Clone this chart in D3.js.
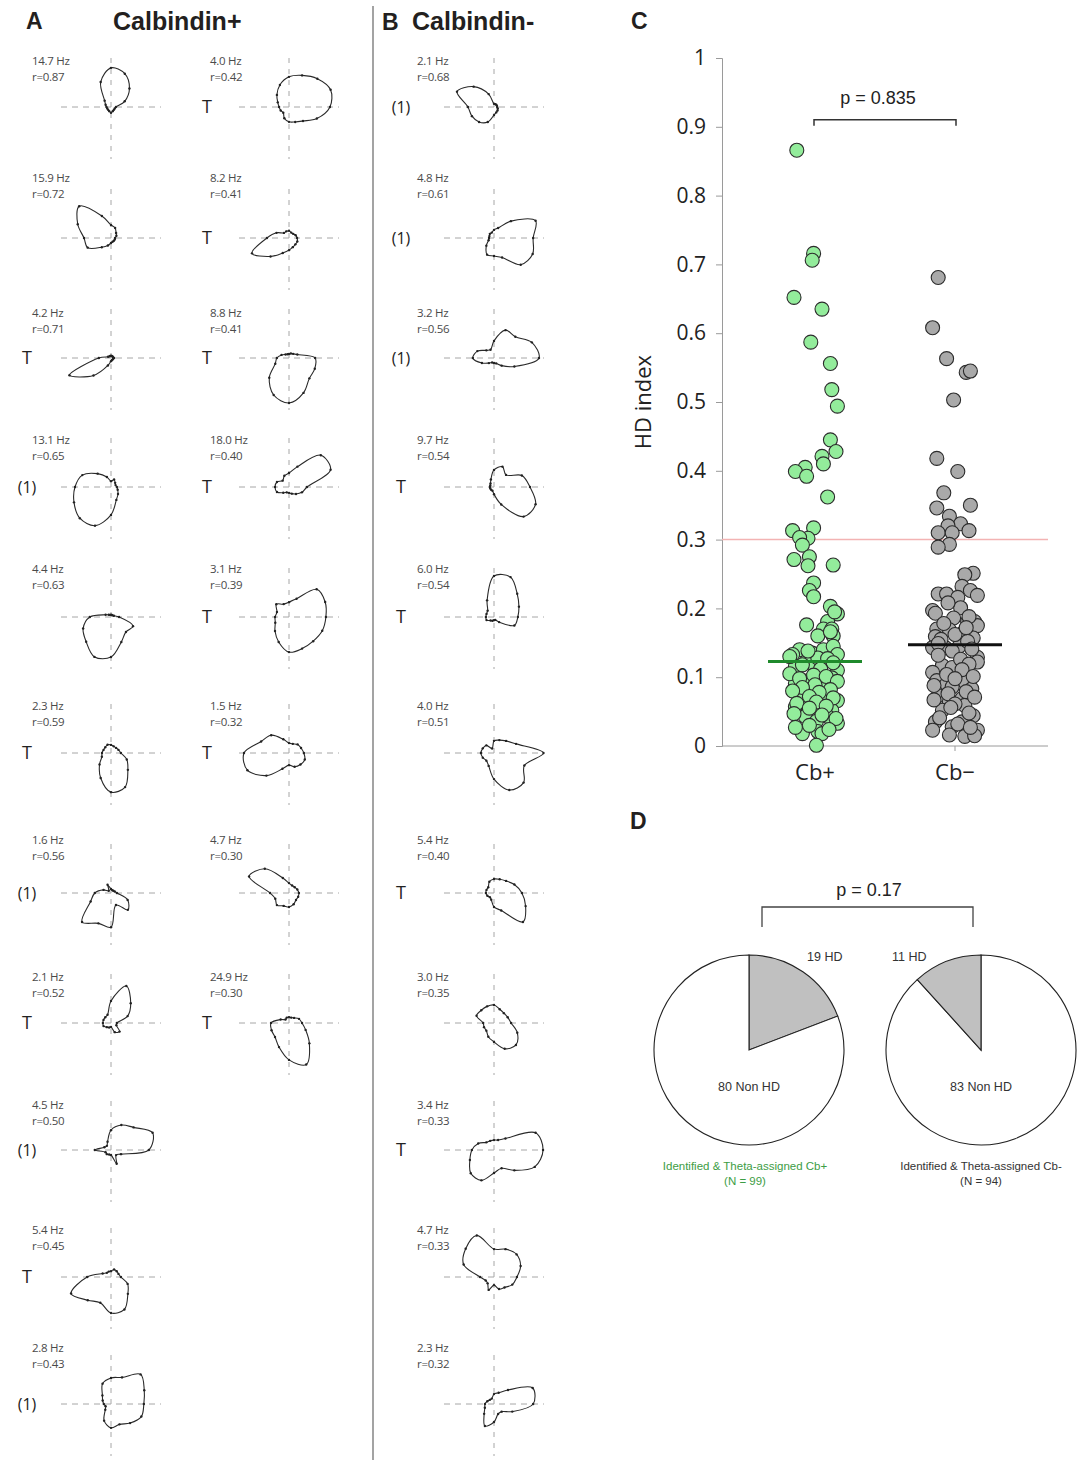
<!DOCTYPE html>
<html>
<head>
<meta charset="utf-8">
<script src="https://cdn.jsdelivr.net/npm/d3@7"></script>
<style>
  body { margin: 0; background: #fff; }
  svg { display: block; }
</style>
</head>
<body>
<svg id="fig" width="1083" height="1460"></svg>
<script>
// ---------- Panel A / B: polar tuning curves (normalised rate per direction) ----------
// 16 directions, starting east and turning counter-clockwise (E, ENE, NE, ... ESE)
const nDirections = 16;

// Calbindin+ first column
const cbPlusCol1Hz = ["14.7", "15.9", "4.2", "13.1", "4.4", "2.3", "1.6", "2.1", "4.5", "5.4", "2.8"];
const cbPlusCol1R = ["0.87", "0.72", "0.71", "0.65", "0.63", "0.59", "0.56", "0.52", "0.50", "0.45", "0.43"];
const cbPlusCol1Tag = ["", "", "T", "(1)", "", "T", "(1)", "T", "(1)", "T", "(1)"];
const cbPlusCol1Rates = [
  [.11,.33,.58,.8,.87,.6,.2,.13,.1,.09,.09,.1,.13,.1,.09,.09],
  [.09,.13,.16,.24,.29,.53,1.0,.8,.6,.56,.29,.18,.11,.09,.09,.09],
  [.07,.05,.05,.05,.05,.05,.05,.07,.27,1.0,.55,.18,.07,.05,.05,.05],
  [.13,.11,.13,.18,.13,.24,.42,.69,.8,.89,.98,.93,.62,.31,.22,.16],
  [.18,.07,.05,.05,.05,.05,.07,.13,.47,.67,.78,.96,.89,.6,.47,.53],
  [.22,.18,.16,.16,.18,.2,.18,.18,.2,.22,.36,.6,.87,.82,.53,.38],
  [.13,.09,.07,.07,.09,.2,.07,.18,.36,.49,.91,.73,.76,.29,.53,.4],
  [.13,.4,.62,.89,.49,.2,.18,.18,.18,.18,.13,.11,.09,.22,.27,.13],
  [.84,1.0,.71,.6,.44,.2,.13,.16,.36,.13,.13,.11,.11,.33,.16,.24],
  [.22,.18,.18,.18,.13,.13,.13,.2,.53,.96,.73,.62,.8,.78,.53,.4],
  [.73,.8,.93,.64,.58,.49,.27,.2,.16,.13,.18,.4,.53,.49,.6,.73]
];

// Calbindin+ second column
const cbPlusCol2Hz = ["4.0", "8.2", "8.8", "18.0", "3.1", "1.5", "4.7", "24.9"];
const cbPlusCol2R = ["0.42", "0.41", "0.41", "0.40", "0.39", "0.32", "0.30", "0.30"];
const cbPlusCol2Tag = ["T", "T", "T", "T", "T", "T", "", "T"];
const cbPlusCol2Rates = [
  [.91,1.0,.89,.76,.67,.53,.38,.27,.22,.2,.18,.27,.33,.36,.44,.67],
  [.18,.16,.13,.13,.16,.16,.16,.3,.49,.89,.58,.36,.27,.22,.2,.2],
  [.58,.2,.13,.11,.09,.09,.11,.18,.27,.33,.62,.89,1.0,.84,.64,.62],
  [.4,1.0,1.0,.49,.31,.27,.2,.29,.31,.29,.18,.13,.13,.16,.22,.31],
  [.82,.87,.87,.44,.33,.31,.4,.29,.31,.33,.44,.6,.78,.76,.76,.8],
  [.33,.29,.27,.22,.22,.33,.56,.67,1.0,1.0,.71,.38,.27,.33,.36,.38],
  [.22,.2,.18,.18,.22,.36,.76,.96,.42,.33,.38,.31,.31,.27,.22,.22],
  [.29,.24,.16,.13,.13,.13,.11,.2,.4,.42,.44,.58,.82,1.0,.64,.4]
];

// Calbindin- column
const cbMinusHz = ["2.1", "4.8", "3.2", "9.7", "6.0", "4.0", "5.4", "3.0", "3.4", "4.7", "2.3"];
const cbMinusR = ["0.68", "0.61", "0.56", "0.54", "0.54", "0.51", "0.40", "0.35", "0.33", "0.33", "0.32"];
const cbMinusTag = ["(1)", "(1)", "(1)", "T", "T", "", "T", "", "T", "", ""];
const cbMinusRates = [
  [.07,.07,.07,.07,.07,.31,.64,.89,.58,.53,.47,.36,.18,.13,.11,.09],
  [.87,1.0,.53,.24,.18,.13,.13,.11,.11,.13,.24,.4,.4,.47,.84,.93],
  [1.0,.91,.67,.67,.38,.2,.24,.4,.47,.29,.16,.11,.11,.13,.24,.49],
  [.8,.67,.38,.49,.38,.18,.11,.09,.09,.09,.09,.09,.16,.42,.93,1.0],
  [.53,.6,.73,.96,.91,.4,.2,.18,.18,.18,.11,.09,.07,.07,.16,.49],
  [1.1,.53,.38,.31,.27,.11,.24,.27,.29,.27,.24,.31,.58,.89,.93,.73],
  [.62,.49,.38,.33,.31,.27,.18,.18,.18,.16,.13,.16,.31,.42,.91,.76],
  [.38,.33,.31,.33,.4,.4,.4,.42,.24,.24,.24,.33,.42,.62,.69,.56],
  [1.09,1.0,.36,.24,.22,.22,.24,.38,.49,.58,.73,.73,.51,.44,.64,.98],
  [.51,.64,.71,.67,.62,1.0,.89,.73,.31,.2,.2,.31,.18,.29,.33,.44],
  [.87,.93,.44,.27,.22,.13,.13,.16,.2,.22,.31,.53,.4,.24,.24,.44]
];

// ---------- Panel C: HD index per cell ----------
const groups = ["Cb+", "Cb\u2212"];
const cbPlusHD = [
  .866,.716,.706,.652,.635,.587,.556,.518,.494,.445,.428,.421,.410,.405,.399,.392,.362,
  .313,.317,.302,.303,.292,.275,.271,.262,.263,.237,.226,.217,.203,.192,.176,.181,.170,
  .170,.160,.160,.195,.166,.140,.133,.135,.140,.145,.133,.116,.123,.116,.123,.110,.091,
  .096,.086,.099,.074,.077,.069,.066,.057,.060,.050,.052,.043,.036,.043,.033,.018,.021,
  .018,.001,.128,.130,.127,.138,.121,.118,.112,.105,.103,.101,.098,.094,.089,.085,.082,
  .080,.078,.072,.070,.064,.062,.058,.055,.047,.045,.040,.030,.027,.024
];
// horizontal spread of each point, in units of the distance between groups
const cbPlusJitter = [
  -.13,-.01,-.02,-.15,.05,-.03,.11,.12,.16,.11,.15,.05,.06,-.07,-.14,-.06,.09,
  -.16,-.01,-.05,-.11,-.09,-.04,-.15,-.05,.13,-.01,-.04,-.01,.11,.16,-.06,.09,.06,
  .12,.02,.13,.14,.11,-.11,-.16,-.02,.06,.13,.16,-.14,-.06,0,.07,.16,-.14,
  -.04,.05,.12,-.11,-.02,.06,.16,-.14,-.06,.04,.12,-.07,.01,.09,.16,-.09,.02,
  .05,.01,.02,-.18,.09,-.05,.13,-.09,.04,-.18,-.01,.08,-.11,.16,0,-.09,.11,
  -.16,.03,-.04,.13,.01,-.13,.08,-.04,-.15,.05,.15,-.04,-.14,.1
];
const cbMinusHD = [
  .681,.608,.563,.543,.545,.503,.418,.399,.368,.350,.346,.334,.323,.320,.313,.310,.310,
  .293,.289,.251,.249,.232,.226,.221,.221,.216,.219,.201,.197,.193,.186,.181,.181,.175,
  .170,.169,.165,.159,.157,.143,.143,.145,.129,.122,.117,.114,.107,.095,.090,.093,.083,
  .086,.073,.064,.069,.059,.052,.044,.035,.035,.028,.023,.023,.016,.014,.015,
  .155,.152,.178,.188,.208,.162,.172,.149,
  .141,.138,.132,.126,.119,.111,.104,.101,.098,.088,.079,.076,.071,.067,.061,.056,.048,
  .041,.032,.027
];
const cbMinusJitter = [
  -.12,-.16,-.06,.08,.11,-.01,-.13,.02,-.08,.11,-.13,-.04,.04,-.05,.10,-.12,-.02,
  -.04,-.12,.13,.07,.05,.11,-.12,-.06,.02,.16,.04,-.16,-.14,-.01,.09,.14,.16,
  -.13,-.04,.06,-.14,.13,-.16,-.07,.03,.16,.16,-.09,-.02,-.16,-.13,-.06,.07,.12,
  -.02,-.12,-.04,.05,.07,-.09,.13,-.14,.05,-.02,-.16,.16,-.04,.07,.14,
  -.1,.09,-.08,.1,-.05,0,.08,-.12,
  .12,-.02,-.12,.04,.1,.05,-.06,.13,0,-.15,.08,-.05,.14,-.15,0,-.03,.1,
  -.11,.02,.11
];
const hdThreshold = 0.3;
const yTicks = [0, .1, .2, .3, .4, .5, .6, .7, .8, .9, 1];
const pHDIndex = "p = 0.835";

// ---------- Panel D: HD / non-HD counts ----------
const pieCbPlus = [{label: "19 HD", value: 19, hd: true}, {label: "80 Non HD", value: 80, hd: false}];
const pieCbMinus = [{label: "83 Non HD", value: 83, hd: false}, {label: "11 HD", value: 11, hd: true}];
const pieCaptions = [["Identified & Theta-assigned Cb+", "(N = 99)"], ["Identified & Theta-assigned Cb-", "(N = 94)"]];
const pCounts = "p = 0.17";

// ====================== drawing ======================
const svg = d3.select("#fig");
svg.append("rect").attr("width", 1083).attr("height", 1460).attr("fill", "#fff");

const titleFont = "'Liberation Sans', Arial, sans-serif";
const smallFont = "'Open Sans', 'Noto Sans', sans-serif";

// panel headings
function heading(x, y, txt, size) {
  svg.append("text").attr("x", x).attr("y", y).text(txt)
    .attr("font-family", titleFont).attr("font-weight", "bold")
    .attr("font-size", size).attr("fill", "#231f20");
}
heading(26, 29, "A", 23);
heading(113, 30, "Calbindin+", 25);
heading(382, 30, "B", 23);
heading(412, 30, "Calbindin-", 25);
heading(631, 29, "C", 23);
heading(630, 829, "D", 23);

// divider between A and B
svg.append("line").attr("x1", 373).attr("x2", 373).attr("y1", 6).attr("y2", 1460)
  .attr("stroke", "#8c8c8c").attr("stroke-width", 1.6);

// row layout of the polar plots: crosshair centre line and first text baseline
const rowLine = [107, 238, 358, 487, 617, 753, 893, 1023, 1150, 1277, 1404];
const rowText = [65, 182, 317, 444, 573, 710, 844, 981, 1109, 1234, 1352];

const rScale = d3.scaleLinear().domain([0, 1]).range([0, 45]);
const angleOf = i => Math.PI / 2 - i * 2 * Math.PI / nDirections; // d3 radial angle (clockwise from north)
const radial = d3.lineRadial()
  .angle((d, i) => angleOf(i))
  .radius(d => rScale(d))
  .curve(d3.curveCatmullRomClosed.alpha(0.5));

function polarColumn(cx, textX, tagX, hz, rs, tags, rates) {
  rates.forEach((vals, row) => {
    const cy = rowLine[row];
    const g = svg.append("g");
    // crosshair
    g.append("line").attr("x1", cx - 50).attr("x2", cx + 50).attr("y1", cy).attr("y2", cy)
      .attr("stroke", "#a6a6a6").attr("stroke-width", 1).attr("stroke-dasharray", "6,5");
    g.append("line").attr("x1", cx).attr("x2", cx).attr("y1", cy - 49).attr("y2", cy + 52)
      .attr("stroke", "#a6a6a6").attr("stroke-width", 1).attr("stroke-dasharray", "5,6");
    // tuning curve
    const p = g.append("g").attr("transform", `translate(${cx},${cy})`);
    p.append("path").attr("d", radial(vals)).attr("fill", "none")
      .attr("stroke", "#2a2a2a").attr("stroke-width", 1.1).attr("stroke-linejoin", "round");
    p.selectAll("circle").data(vals).join("circle")
      .attr("cx", (d, i) => d3.pointRadial(angleOf(i), rScale(d))[0])
      .attr("cy", (d, i) => d3.pointRadial(angleOf(i), rScale(d))[1])
      .attr("r", 1.2).attr("fill", "#222");
    // annotations
    g.append("text").attr("x", textX).attr("y", rowText[row]).text(hz[row] + " Hz")
      .attr("font-family", smallFont).attr("font-size", 11.5).attr("fill", "#4a4a4a")
      .attr("letter-spacing", -0.3);
    g.append("text").attr("x", textX).attr("y", rowText[row] + 16).text("r=" + rs[row])
      .attr("font-family", smallFont).attr("font-size", 11.5).attr("fill", "#4a4a4a")
      .attr("letter-spacing", -0.3);
    if (tags[row]) {
      g.append("text").attr("x", tagX).attr("y", cy + 6).text(tags[row])
        .attr("text-anchor", "middle").attr("font-family", smallFont)
        .attr("font-size", tags[row] === "T" ? 18 : 16).attr("fill", "#222");
    }
  });
}
polarColumn(111, 32, 27, cbPlusCol1Hz, cbPlusCol1R, cbPlusCol1Tag, cbPlusCol1Rates);
polarColumn(289, 210, 207, cbPlusCol2Hz, cbPlusCol2R, cbPlusCol2Tag, cbPlusCol2Rates);
polarColumn(494, 417, 401, cbMinusHz, cbMinusR, cbMinusTag, cbMinusRates);

// ---------- Panel C ----------
const plotLeft = 722, plotRight = 1048;
const y = d3.scaleLinear().domain([0, 1]).range([746, 58]);
const x = d3.scaleBand().domain(groups).range([745, 1025]).padding(0);
const spread = x.bandwidth();
const xc = g => x(g) + x.bandwidth() / 2;

const yAxis = svg.append("g").attr("transform", `translate(${plotLeft},0)`)
  .call(d3.axisLeft(y).tickValues(yTicks).tickSize(6).tickPadding(10)
    .tickFormat(d => (d === 0 || d === 1) ? String(d) : d3.format(".1f")(d)));
yAxis.select(".domain").attr("stroke", "#9a9a9a");
yAxis.selectAll(".tick line").attr("stroke", "#9a9a9a");
yAxis.selectAll(".tick text").attr("font-family", smallFont).attr("font-size", 21).attr("fill", "#222");

svg.append("line").attr("x1", plotLeft).attr("x2", plotRight).attr("y1", y(0)).attr("y2", y(0))
  .attr("stroke", "#9a9a9a");
const xAxis = svg.append("g").attr("transform", `translate(0,${y(0)})`)
  .call(d3.axisBottom(x).tickSize(5).tickPadding(13));
xAxis.select(".domain").remove();
xAxis.selectAll(".tick line").attr("stroke", "#9a9a9a");
xAxis.selectAll(".tick text").attr("font-family", smallFont).attr("font-size", 22).attr("fill", "#222");

svg.append("text").attr("transform", `translate(651,${y(0.5)}) rotate(-90)`)
  .attr("text-anchor", "middle").text("HD index")
  .attr("font-family", smallFont).attr("font-size", 22).attr("fill", "#222");

// HD threshold
svg.append("line").attr("x1", plotLeft).attr("x2", plotRight)
  .attr("y1", y(hdThreshold)).attr("y2", y(hdThreshold))
  .attr("stroke", "#f3b3b3").attr("stroke-width", 1.5);

function dots(values, jitter, group, fill) {
  svg.append("g").selectAll("circle").data(values).join("circle")
    .attr("cx", (d, i) => xc(group) + jitter[i] * spread)
    .attr("cy", d => y(d))
    .attr("r", 7)
    .attr("fill", fill).attr("stroke", "#2b2b2b").attr("stroke-width", 1.1);
}
dots(cbPlusHD, cbPlusJitter, groups[0], "#93ec9b");
dots(cbMinusHD, cbMinusJitter, groups[1], "#a9a9a9");

// medians
[[cbPlusHD, groups[0], "#1f8a2c"], [cbMinusHD, groups[1], "#111"]].forEach(([vals, g, c]) => {
  const m = d3.median(vals);
  svg.append("line").attr("x1", xc(g) - 47).attr("x2", xc(g) + 47)
    .attr("y1", y(m)).attr("y2", y(m)).attr("stroke", c).attr("stroke-width", 3);
});

// significance bracket
svg.append("path")
  .attr("d", `M${xc(groups[0]) - 1},${y(0.9) - 1} V${y(0.9) - 7} H${xc(groups[1]) + 1} V${y(0.9) - 1}`)
  .attr("fill", "none").attr("stroke", "#333").attr("stroke-width", 1.5);
svg.append("text").attr("x", (xc(groups[0]) + xc(groups[1])) / 2 - 7).attr("y", 104)
  .attr("text-anchor", "middle").text(pHDIndex)
  .attr("font-family", titleFont).attr("font-size", 18).attr("fill", "#222");

// ---------- Panel D ----------
const arc = d3.arc().innerRadius(0).outerRadius(95);
const pie = d3.pie().sort(null).value(d => d.value);
const pieCenters = [[749, 1050], [981, 1050]];

[pieCbPlus, pieCbMinus].forEach((data, k) => {
  const [cx, cy] = pieCenters[k];
  const g = svg.append("g").attr("transform", `translate(${cx},${cy})`);
  g.selectAll("path").data(pie(data)).join("path")
    .attr("d", arc)
    .attr("fill", d => d.data.hd ? "#c0c0c0" : "#fff")
    .attr("stroke", "#222").attr("stroke-width", 1.1);
  const hd = data.find(d => d.hd), non = data.find(d => !d.hd);
  g.append("text").attr("x", k === 0 ? 58 : -89).attr("y", -89).text(hd.label)
    .attr("font-family", titleFont).attr("font-size", 12.5).attr("fill", "#333");
  g.append("text").attr("x", 0).attr("y", 41).attr("text-anchor", "middle").text(non.label)
    .attr("font-family", titleFont).attr("font-size", 12.5).attr("fill", "#333");
  pieCaptions[k].forEach((line, j) => {
    g.append("text").attr("x", k === 0 ? -4 : 0).attr("y", 120 + j * 15)
      .attr("text-anchor", "middle").text(line)
      .attr("font-family", titleFont).attr("font-size", 11.5)
      .attr("fill", k === 0 ? "#3d9d45" : "#333");
  });
});

svg.append("path").attr("d", "M762,927 V907 H973 V927")
  .attr("fill", "none").attr("stroke", "#444").attr("stroke-width", 1.3);
svg.append("text").attr("x", 869).attr("y", 896).attr("text-anchor", "middle").text(pCounts)
  .attr("font-family", titleFont).attr("font-size", 18).attr("fill", "#222");
</script>
</body>
</html>
